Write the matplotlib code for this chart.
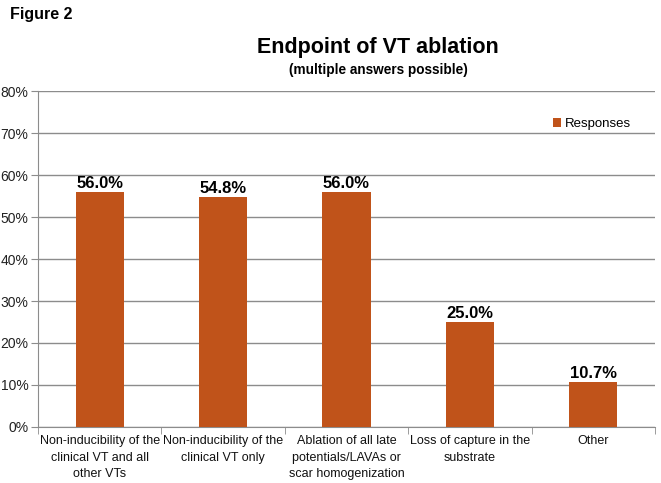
import matplotlib.pyplot as plt
import numpy as np

plt.rcParams['font.family'] = ['Liberation Sans', 'DejaVu Sans']

categories = ["Non-inducibility of the\nclinical VT and all\nother VTs",
              "Non-inducibility of the\nclinical VT only",
              "Ablation of all late\npotentials/LAVAs or\nscar homogenization",
              "Loss of capture in the\nsubstrate",
              "Other"]
responses = [56.0, 54.8, 56.0, 25.0, 10.7]
yticks = [0, 10, 20, 30, 40, 50, 60, 70, 80]

bar_color = "#C0531A"
W, H = 661, 483

fig = plt.figure(figsize=(W / 100, H / 100), dpi=100)
ax = fig.add_axes([38 / W, 1 - 427 / H, (655 - 38) / W, (427 - 91) / H])

x = np.arange(len(categories))
bars = ax.bar(x, responses, width=0.39, color=bar_color, label="Responses", zorder=3)

for b, v in zip(bars, responses):
    ax.text(b.get_x() + b.get_width() / 2, v + 0.2, f"{v:.1f}%", ha="center", va="bottom",
            fontsize=12, fontweight="bold")

ax.set_xlim(-0.5, len(categories) - 0.5)
ax.set_ylim(0, 80)
ax.set_yticks(yticks)
ax.set_yticklabels([f"{t}%" for t in yticks], fontsize=10, color="#222222")
ax.yaxis.grid(True, color="#8c8c8c", linewidth=1, zorder=0)

ax.set_xticks(x)
ax.set_xticklabels(categories, fontsize=9, color="#111111", linespacing=1.5)
ax.tick_params(axis="x", length=0, pad=6)
ax.set_xticks(np.arange(len(categories) + 1) - 0.5, minor=True)
ax.tick_params(axis="x", which="minor", length=5, color="#8c8c8c")
ax.tick_params(axis="y", length=5, color="#8c8c8c", pad=2)

for s in ["top", "right"]:
    ax.spines[s].set_visible(False)
for s in ["left", "bottom"]:
    ax.spines[s].set_color("#8c8c8c")

leg = ax.legend(loc="upper left", bbox_to_anchor=(0.815, 0.955), frameon=False, fontsize=9.5,
                handlelength=0.6, handleheight=0.6, handletextpad=0.3)

fig.text(10 / W, 1 - 15 / H, "Figure 2", fontsize=11.5, fontweight="bold", ha="left", va="center")
fig.text(378 / W, 1 - 48 / H, "Endpoint of VT ablation", fontsize=15.5, fontweight="bold",
         ha="center", va="center")
fig.text(378 / W, 1 - 70 / H, "(multiple answers possible)", fontsize=9.8, fontweight="bold",
         ha="center", va="center")

fig.savefig("out.png", dpi=100)
